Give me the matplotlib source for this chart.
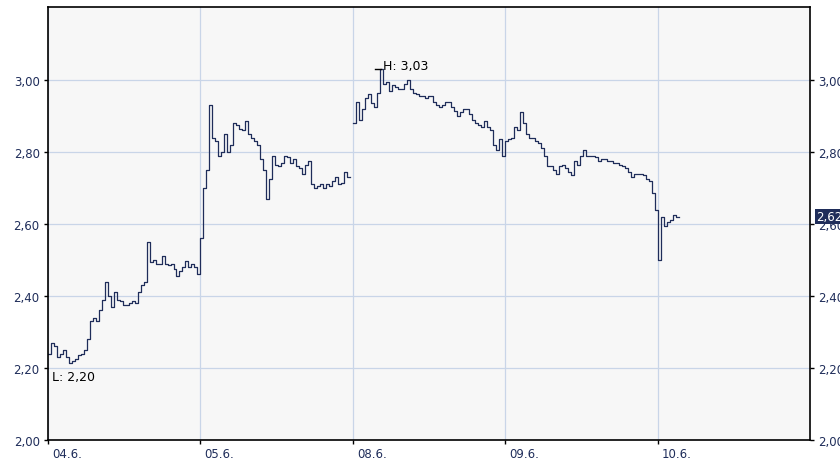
import matplotlib.pyplot as plt
import matplotlib.transforms as mtransforms
import numpy as np

# price levels per trading day, one value per ~1/51 of a day
day0 = [2.24, 2.27, 2.26, 2.23, 2.24, 2.25, 2.23, 2.215, 2.22, 2.225,
        2.235, 2.24, 2.25, 2.28, 2.33, 2.34, 2.33, 2.36, 2.39, 2.44,
        2.40, 2.37, 2.41, 2.39, 2.385, 2.375, 2.375, 2.38, 2.385, 2.38,
        2.41, 2.43, 2.44, 2.55, 2.495, 2.50, 2.49, 2.49, 2.51, 2.49,
        2.485, 2.49, 2.475, 2.456, 2.47, 2.48, 2.498, 2.48, 2.49, 2.48,
        2.46]
day1 = [2.56, 2.70, 2.75, 2.93, 2.84, 2.83, 2.79, 2.80, 2.85, 2.80,
        2.82, 2.88, 2.875, 2.865, 2.86, 2.885, 2.85, 2.84, 2.83, 2.82,
        2.78, 2.75, 2.67, 2.725, 2.79, 2.765, 2.76, 2.77, 2.79, 2.785,
        2.77, 2.78, 2.76, 2.755, 2.74, 2.765, 2.775, 2.71, 2.70, 2.705,
        2.71, 2.70, 2.71, 2.705, 2.72, 2.73, 2.71, 2.715, 2.745, 2.73]
day2 = [2.88, 2.94, 2.89, 2.92, 2.95, 2.96, 2.935, 2.925, 2.965, 3.03,
        2.99, 2.995, 2.97, 2.985, 2.98, 2.975, 2.975, 2.99, 3.00, 2.975,
        2.965, 2.96, 2.955, 2.955, 2.95, 2.955, 2.955, 2.94, 2.93, 2.925,
        2.93, 2.94, 2.94, 2.925, 2.915, 2.90, 2.91, 2.92, 2.92, 2.905,
        2.89, 2.88, 2.875, 2.87, 2.885, 2.87, 2.86, 2.82, 2.805, 2.835,
        2.79]
day3 = [2.83, 2.835, 2.84, 2.87, 2.86, 2.91, 2.88, 2.85, 2.84, 2.84,
        2.83, 2.825, 2.81, 2.79, 2.76, 2.76, 2.75, 2.74, 2.76, 2.765,
        2.755, 2.745, 2.735, 2.775, 2.765, 2.79, 2.805, 2.79, 2.79, 2.79,
        2.785, 2.775, 2.78, 2.78, 2.775, 2.775, 2.77, 2.77, 2.765, 2.76,
        2.755, 2.745, 2.73, 2.74, 2.74, 2.74, 2.735, 2.725, 2.72, 2.685,
        2.64]
day4 = [2.50, 2.62, 2.595, 2.605, 2.61, 2.625, 2.62]

day_labels = ["04.6.", "05.6.", "08.6.", "09.6.", "10.6."]
y_ticks = [2.0, 2.2, 2.4, 2.6, 2.8, 3.0]
high_val = 3.03
low_val = 2.20
last_val = 2.62

steps = 51
navy = "#1f2d5a"
grid_c = "#c9d5e8"


def day_x(d, vals):
    return d + np.arange(len(vals)) / steps


def fmt(v):
    return ("%.2f" % v).replace(".", ",")


# two continuous sessions (gap before 08.6.)
seg_a_y = day0 + day1
seg_a_x = np.concatenate([day_x(0, day0), day_x(1, day1)])
seg_b_y = day2 + day3 + day4
seg_b_x = np.concatenate([day_x(2, day2), day_x(3, day3), day_x(4, day4)])

fig = plt.figure(figsize=(8.4, 4.6), dpi=100)
ax = fig.add_axes([48 / 840, 19 / 460, 762 / 840, 433 / 460])
ax.set_facecolor("#f7f7f7")

for xs, ys in [(seg_a_x, seg_a_y), (seg_b_x, seg_b_y)]:
    xs = np.append(xs, xs[-1] + 1 / steps)
    ys = np.append(ys, ys[-1])
    ax.plot(xs, ys, drawstyle="steps-post", color=navy, lw=0.9)

ax.set_xlim(0, 5)
ax.set_ylim(2.0, 3.2028)
ax.set_xticks(range(len(day_labels)))
ax.set_xticklabels(day_labels)
ax.set_yticks(y_ticks)
ax.set_yticklabels([fmt(v) for v in y_ticks])
ax.grid(True, color=grid_c, lw=0.9)
ax.set_axisbelow(True)
ax.tick_params(axis="both", length=3, width=1, color="black",
               labelsize=8.5, labelcolor=navy)
ax.tick_params(axis="y", right=True, labelright=True, pad=3)
ax.tick_params(axis="x", pad=2)
for spine in ax.spines.values():
    spine.set_color("black")
    spine.set_linewidth(1.2)

# shift the date labels to start just right of the tick
offset = mtransforms.ScaledTranslation(4 / 100, 0, fig.dpi_scale_trans)
for lbl in ax.get_xticklabels():
    lbl.set_horizontalalignment("left")
    lbl.set_transform(lbl.get_transform() + offset)

# high / low markers
hx = 2.146
ax.plot([hx, hx + 0.04], [high_val, high_val], color="black", lw=1)
ax.text(hx + 0.05, high_val, "H: " + fmt(high_val),
        fontsize=9, color="black", va="baseline", ha="left")
ax.text(0.025, low_val - 0.005, "L: " + fmt(low_val),
        fontsize=9, color="black", va="top", ha="left")

# last price box on the right axis
ax.annotate(fmt(last_val), xy=(1, last_val),
            xycoords=("axes fraction", "data"), xytext=(6, 0),
            textcoords="offset pixels", va="center", ha="left",
            fontsize=8.5, color="white", annotation_clip=False,
            bbox=dict(boxstyle="square,pad=0.1", fc=navy, ec="none"))

fig.savefig("out.png", dpi=100)
